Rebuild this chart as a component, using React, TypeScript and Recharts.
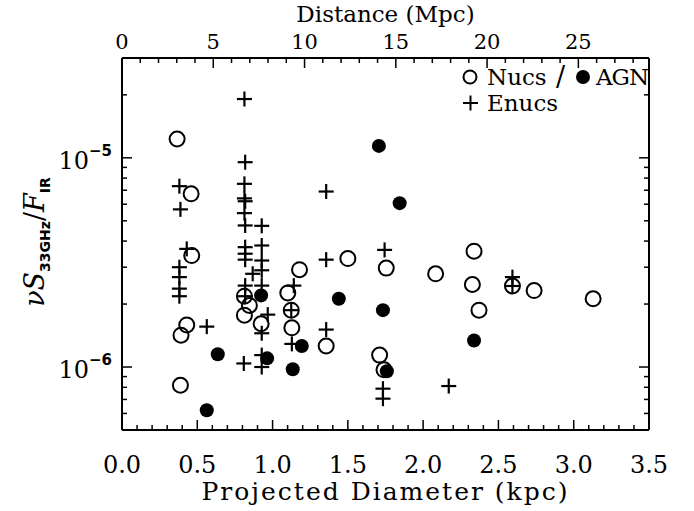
import React from "react"
import { ScatterChart, Scatter, XAxis, YAxis, Legend } from "recharts"

// [projected diameter (kpc), nu S_33GHz / F_IR]
const nucs: [number, number][] = [
  [0.366, 1.23e-5], [0.459, 6.73e-6], [0.463, 3.41e-6], [0.43, 1.59e-6],
  [0.392, 1.42e-6], [0.388, 8.18e-7], [0.813, 2.18e-6], [0.846, 1.97e-6],
  [0.813, 1.77e-6], [0.924, 1.61e-6], [1.179, 2.92e-6], [1.101, 2.26e-6],
  [1.124, 1.87e-6], [1.128, 1.54e-6], [1.5, 3.3e-6], [1.356, 1.26e-6],
  [1.755, 2.97e-6], [1.711, 1.14e-6], [1.74, 9.7e-7], [2.338, 3.58e-6],
  [2.083, 2.79e-6], [2.327, 2.48e-6], [2.593, 2.44e-6], [2.737, 2.32e-6],
  [2.371, 1.87e-6], [3.129, 2.12e-6],
]

const agn: [number, number][] = [
  [1.706, 1.14e-5], [1.844, 6.07e-6], [0.924, 2.2e-6], [0.636, 1.15e-6],
  [0.563, 6.21e-7], [0.964, 1.1e-6], [1.194, 1.26e-6], [1.134, 9.75e-7],
  [1.44, 2.12e-6], [1.733, 1.87e-6], [1.759, 9.54e-7], [2.338, 1.34e-6],
]

const enucs: [number, number][] = [
  [0.813, 1.91e-5], [0.818, 9.53e-6], [0.381, 7.32e-6], [1.356, 6.9e-6],
  [0.388, 5.67e-6], [0.813, 7.51e-6], [0.813, 6.4e-6], [0.818, 6.2e-6],
  [0.813, 5.44e-6], [0.818, 4.75e-6], [0.928, 4.73e-6], [0.43, 3.67e-6],
  [0.381, 3.0e-6], [0.381, 2.69e-6], [0.381, 2.37e-6], [0.381, 2.18e-6],
  [0.563, 1.56e-6], [0.818, 3.74e-6], [0.928, 3.81e-6], [0.818, 3.48e-6],
  [0.818, 3.26e-6], [0.928, 3.23e-6], [0.928, 2.9e-6], [0.868, 2.79e-6],
  [0.928, 2.45e-6], [0.818, 2.45e-6], [0.818, 2.18e-6], [0.968, 1.78e-6],
  [0.928, 1.45e-6], [0.809, 1.04e-6], [0.928, 1.14e-6], [0.928, 1.0e-6],
  [1.141, 2.45e-6], [1.124, 1.87e-6], [1.128, 1.29e-6], [1.356, 3.26e-6],
  [1.356, 1.51e-6], [1.744, 3.63e-6], [1.733, 7.88e-7], [1.733, 7.06e-7],
  [2.593, 2.69e-6], [2.593, 2.44e-6], [2.17, 8.11e-7],
]

const kpcMajor = [0, 0.5, 1, 1.5, 2, 2.5, 3, 3.5]
const kpcTicks = Array.from({ length: 36 }, (_, i) => i / 10)
const mpcMajor = [0, 5, 10, 15, 20, 25]
const mpcTicks = Array.from({ length: 29 }, (_, i) => i)
const ratioTicks = [
  5e-7, 6e-7, 7e-7, 8e-7, 9e-7,
  1e-6, 2e-6, 3e-6, 4e-6, 5e-6, 6e-6, 7e-6, 8e-6, 9e-6,
  1e-5, 2e-5, 3e-5,
]

// 25 arcsec aperture: kpc per Mpc of distance
const KPC_PER_MPC = 3.5 / 28.87

const FONT = "'DejaVu Serif', serif"
const SANS = "'DejaVu Sans', sans-serif"
const toPoints = (rows: [number, number][]) => rows.map(([x, y]) => ({ x, y }))
const near = (list: number[], v: number) => list.some((m) => Math.abs(m - v) < 1e-6)
const isDecade = (v: number) => {
  const l = Math.log10(v)
  return Math.abs(l - Math.round(l)) < 1e-6
}

const BottomTick = ({ x, y, payload }: any) => {
  const major = near(kpcMajor, payload.value)
  return (
    <g>
      <line x1={x} x2={x} y1={y} y2={y - (major ? 10 : 5)} stroke="#000" strokeWidth={1.5} />
      {major && (
        <text x={x} y={y + 43} textAnchor="middle" fontSize={24} fontFamily={FONT} fill="#000">
          {payload.value.toFixed(1)}
        </text>
      )}
    </g>
  )
}

const TopTick = ({ x, y, payload }: any) => {
  const mpc = Math.round(payload.value / KPC_PER_MPC)
  const major = near(mpcMajor, mpc)
  return (
    <g>
      <line x1={x} x2={x} y1={y} y2={y + (major ? 10 : 5)} stroke="#000" strokeWidth={1.5} />
      {major && (
        <text x={x} y={y - 9} textAnchor="middle" fontSize={21} fontFamily={FONT} fill="#000">
          {mpc}
        </text>
      )}
    </g>
  )
}

const LeftTick = ({ x, y, payload }: any) => {
  const major = isDecade(payload.value)
  return (
    <g>
      <line x1={x} x2={x + (major ? 10 : 5)} y1={y} y2={y} stroke="#000" strokeWidth={1.5} />
      {major && (
        <text x={x - 10} y={y + 11} textAnchor="end" fontSize={24} fontFamily={FONT} fill="#000">
          10
          <tspan dy={-13} fontSize={15} fontFamily={SANS} fontWeight="bold">
            {"\u2212" + Math.abs(Math.round(Math.log10(payload.value)))}
          </tspan>
        </text>
      )}
    </g>
  )
}

const RightTick = ({ x, y, payload }: any) => {
  const major = isDecade(payload.value)
  return <line x1={x} x2={x - (major ? 10 : 5)} y1={y} y2={y} stroke="#000" strokeWidth={1.5} />
}

const OpenCircle = ({ cx, cy }: any) => (
  <circle cx={cx} cy={cy} r={7.5} fill="none" stroke="#000" strokeWidth={2} />
)
const FilledCircle = ({ cx, cy }: any) => <circle cx={cx} cy={cy} r={7} fill="#000" />
const Plus = ({ cx, cy }: any) => (
  <g stroke="#000" strokeWidth={2.2}>
    <line x1={cx - 7.5} x2={cx + 7.5} y1={cy} y2={cy} />
    <line x1={cx} x2={cx} y1={cy - 7.5} y2={cy + 7.5} />
  </g>
)

const LegendBox = () => (
  <svg width={200} height={56} style={{ display: "block" }}>
    <circle cx={15} cy={17} r={6.5} fill="none" stroke="#000" strokeWidth={2} />
    <text x={32} y={25} fontSize={23} fontFamily={FONT}>Nucs</text>
    <text x={101} y={26} fontSize={27} fontFamily={FONT}>/</text>
    <circle cx={128} cy={17} r={7} fill="#000" />
    <text x={141} y={25} fontSize={23} fontFamily={FONT} letterSpacing={-1}>AGN</text>
    <g stroke="#000" strokeWidth={2}>
      <line x1={8} x2={23} y1={43} y2={43} />
      <line x1={15.5} x2={15.5} y1={35.5} y2={50.5} />
    </g>
    <text x={32} y={51} fontSize={23} fontFamily={FONT}>Enucs</text>
  </svg>
)

const BottomTitle = ({ viewBox }: any) => (
  <text x={viewBox.x + viewBox.width / 2} y={500} textAnchor="middle" fontSize={25} fontFamily={FONT} letterSpacing={2}>
    Projected Diameter (kpc)
  </text>
)

const TopTitle = ({ viewBox }: any) => (
  <text x={viewBox.x + viewBox.width / 2} y={22} textAnchor="middle" fontSize={23} fontFamily={FONT}>
    Distance (Mpc)
  </text>
)

const LeftTitle = () => (
  <text x={44} y={242} transform="rotate(-90, 44, 242)" textAnchor="middle" fontSize={27} fontFamily={FONT}>
    <tspan fontStyle="italic">{"\u03BD"}</tspan>
    <tspan fontStyle="italic">S</tspan>
    <tspan dy={6} fontSize={14} fontFamily={SANS} fontWeight="bold">33GHz</tspan>
    <tspan dy={-6}>/</tspan>
    <tspan fontStyle="italic">F</tspan>
    <tspan dy={6} fontSize={14} fontFamily={SANS} fontWeight="bold">IR</tspan>
  </text>
)

export default function App() {
  return (
    <div style={{ position: "absolute", left: 0, top: 0, background: "#fff" }}>
      <ScatterChart width={694} height={511} margin={{ top: 0, right: 0, bottom: 0, left: 0 }}>
        <XAxis
          xAxisId="kpc" dataKey="x" type="number" domain={[0, 3.5]} allowDataOverflow
          ticks={kpcTicks} interval={0} tickSize={0} tickMargin={0} tick={<BottomTick />}
          height={81} axisLine={{ stroke: "#000", strokeWidth: 2 }} label={<BottomTitle />}
        />
        <XAxis
          xAxisId="mpc" dataKey="x" orientation="top" type="number" domain={[0, 3.5]} allowDataOverflow
          ticks={mpcTicks.map((m) => m * KPC_PER_MPC)} interval={0} tickSize={0} tickMargin={0}
          tick={<TopTick />} height={58} axisLine={{ stroke: "#000", strokeWidth: 2 }} label={<TopTitle />}
        />
        <YAxis
          yAxisId="ratio" dataKey="y" type="number" scale="log" domain={[5e-7, 3e-5]} allowDataOverflow
          ticks={ratioTicks} interval={0} tickSize={0} tickMargin={0} tick={<LeftTick />}
          width={122} axisLine={{ stroke: "#000", strokeWidth: 2 }} label={<LeftTitle />}
        />
        <YAxis
          yAxisId="mirror" orientation="right" type="number" scale="log" domain={[5e-7, 3e-5]} allowDataOverflow
          ticks={ratioTicks} interval={0} tickSize={0} tickMargin={0} tick={<RightTick />}
          width={45} axisLine={{ stroke: "#000", strokeWidth: 2 }}
        />
        <Legend
          layout="vertical" align="center" verticalAlign="middle"
          wrapperStyle={{ left: 455, top: 60, width: 200, height: 56 }}
          content={<LegendBox />}
        />
        <Scatter name="Nucs" data={toPoints(nucs)} xAxisId="kpc" yAxisId="ratio" shape={OpenCircle} isAnimationActive={false} />
        <Scatter name="AGN" data={toPoints(agn)} xAxisId="kpc" yAxisId="ratio" shape={FilledCircle} isAnimationActive={false} />
        <Scatter name="Enucs" data={toPoints(enucs)} xAxisId="kpc" yAxisId="ratio" shape={Plus} isAnimationActive={false} />
      </ScatterChart>
    </div>
  )
}
